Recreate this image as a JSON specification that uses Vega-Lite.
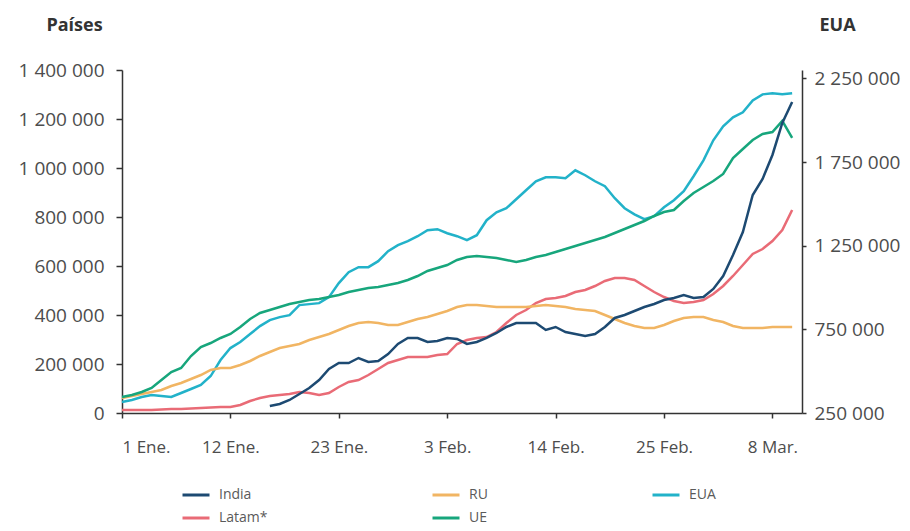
{
  "$schema": "https://vega.github.io/schema/vega-lite/v6.json",
  "width": 680,
  "height": 343,
  "autosize": {"type": "none"},
  "padding": {"left": 122, "top": 70, "right": 108, "bottom": 118},
  "background": "white",
  "config": {
    "view": {"stroke": null},
    "font": "Open Sans",
    "axis": {
      "grid": false,
      "domainColor": "#333333",
      "domainWidth": 1.5,
      "tickColor": "#333333",
      "tickWidth": 1.5,
      "labelFont": "Open Sans",
      "labelFontSize": 17,
      "labelColor": "#4d4d4d",
      "titleFont": "Open Sans",
      "titleFontSize": 18,
      "titleFontWeight": "bold",
      "titleColor": "#333333"
    },
    "legend": {
      "labelFont": "Open Sans",
      "labelFontSize": 14,
      "labelColor": "#5a5a5a"
    }
  },
  "data": {
    "values": [
      {"fecha": "2021-01-01", "Latam*": 12200, "RU": 61200, "UE": 65300, "EUA": 315700},
      {"fecha": "2021-01-02", "Latam*": 12200, "RU": 69400, "UE": 73500, "EUA": 327600},
      {"fecha": "2021-01-03", "Latam*": 12200, "RU": 77600, "UE": 85700, "EUA": 345500},
      {"fecha": "2021-01-04", "Latam*": 12200, "RU": 85700, "UE": 102000, "EUA": 357500},
      {"fecha": "2021-01-05", "Latam*": 14300, "RU": 93900, "UE": 134700, "EUA": 351500},
      {"fecha": "2021-01-06", "Latam*": 16300, "RU": 110200, "UE": 167400, "EUA": 345500},
      {"fecha": "2021-01-07", "Latam*": 16300, "RU": 122500, "UE": 183700, "EUA": 369400},
      {"fecha": "2021-01-08", "Latam*": 18400, "RU": 138800, "UE": 232700, "EUA": 393300},
      {"fecha": "2021-01-09", "Latam*": 20400, "RU": 155100, "UE": 269400, "EUA": 417200},
      {"fecha": "2021-01-10", "Latam*": 22500, "RU": 175500, "UE": 285700, "EUA": 470900},
      {"fecha": "2021-01-11", "Latam*": 24500, "RU": 183700, "UE": 306200, "EUA": 566400},
      {"fecha": "2021-01-12", "Latam*": 24500, "RU": 183700, "UE": 322500, "EUA": 638100},
      {"fecha": "2021-01-13", "Latam*": 32700, "RU": 195900, "UE": 351100, "EUA": 673900},
      {"fecha": "2021-01-14", "Latam*": 49000, "RU": 212300, "UE": 383700, "EUA": 721600},
      {"fecha": "2021-01-15", "Latam*": 61200, "RU": 232700, "UE": 408200, "EUA": 769400},
      {"fecha": "2021-01-16", "India": 28600, "Latam*": 69400, "RU": 249000, "UE": 420400, "EUA": 805200},
      {"fecha": "2021-01-17", "India": 36700, "Latam*": 73500, "RU": 265300, "UE": 432700, "EUA": 823100},
      {"fecha": "2021-01-18", "India": 53100, "Latam*": 77600, "RU": 273500, "UE": 444900, "EUA": 835100},
      {"fecha": "2021-01-19", "India": 77600, "Latam*": 85700, "RU": 281700, "UE": 453100, "EUA": 894800},
      {"fecha": "2021-01-20", "India": 102000, "Latam*": 81600, "RU": 298000, "UE": 461300, "EUA": 900700},
      {"fecha": "2021-01-21", "India": 134700, "Latam*": 73500, "RU": 310200, "UE": 465300, "EUA": 906700},
      {"fecha": "2021-01-22", "India": 179600, "Latam*": 81600, "RU": 322500, "UE": 473500, "EUA": 942500},
      {"fecha": "2021-01-23", "India": 204100, "Latam*": 106100, "RU": 338800, "UE": 481700, "EUA": 1026100},
      {"fecha": "2021-01-24", "India": 204100, "Latam*": 126500, "RU": 355100, "UE": 493900, "EUA": 1091800},
      {"fecha": "2021-01-25", "India": 224500, "Latam*": 134700, "RU": 367400, "UE": 502100, "EUA": 1121600},
      {"fecha": "2021-01-26", "India": 208200, "Latam*": 155100, "RU": 371500, "UE": 510300, "EUA": 1121600},
      {"fecha": "2021-01-27", "India": 212300, "Latam*": 179600, "RU": 367400, "UE": 514300, "EUA": 1157400},
      {"fecha": "2021-01-28", "India": 240800, "Latam*": 204100, "RU": 359200, "UE": 522500, "EUA": 1217100},
      {"fecha": "2021-01-29", "India": 281700, "Latam*": 216300, "RU": 359200, "UE": 530700, "EUA": 1253000},
      {"fecha": "2021-01-30", "India": 306200, "Latam*": 228600, "RU": 371500, "UE": 542900, "EUA": 1276800},
      {"fecha": "2021-01-31", "India": 306200, "Latam*": 228600, "RU": 383700, "UE": 559200, "EUA": 1306700},
      {"fecha": "2021-02-01", "India": 289800, "Latam*": 228600, "RU": 391900, "UE": 579600, "EUA": 1342500},
      {"fecha": "2021-02-02", "India": 293900, "Latam*": 236800, "RU": 404100, "UE": 591900, "EUA": 1348500},
      {"fecha": "2021-02-03", "India": 306200, "Latam*": 240800, "RU": 416400, "UE": 604100, "EUA": 1324600},
      {"fecha": "2021-02-04", "India": 302100, "Latam*": 281700, "RU": 432700, "UE": 624500, "EUA": 1306700},
      {"fecha": "2021-02-05", "India": 281700, "Latam*": 298000, "RU": 440900, "UE": 636800, "EUA": 1282800},
      {"fecha": "2021-02-06", "India": 289800, "Latam*": 306200, "RU": 440900, "UE": 640900, "EUA": 1312700},
      {"fecha": "2021-02-07", "India": 306200, "Latam*": 310200, "RU": 436800, "UE": 636800, "EUA": 1402200},
      {"fecha": "2021-02-08", "India": 326600, "Latam*": 330600, "RU": 432700, "UE": 632700, "EUA": 1450000},
      {"fecha": "2021-02-09", "India": 351100, "Latam*": 367400, "RU": 432700, "UE": 624500, "EUA": 1473900},
      {"fecha": "2021-02-10", "India": 367400, "Latam*": 400000, "RU": 432700, "UE": 616400, "EUA": 1527600},
      {"fecha": "2021-02-11", "India": 367400, "Latam*": 420400, "RU": 432700, "UE": 624500, "EUA": 1581300},
      {"fecha": "2021-02-12", "India": 367400, "Latam*": 449000, "RU": 436800, "UE": 636800, "EUA": 1635000},
      {"fecha": "2021-02-13", "India": 338800, "Latam*": 465300, "RU": 440900, "UE": 645000, "EUA": 1658900},
      {"fecha": "2021-02-14", "India": 351100, "Latam*": 469400, "RU": 436800, "UE": 657200, "EUA": 1658900},
      {"fecha": "2021-02-15", "India": 330600, "Latam*": 477600, "RU": 432700, "UE": 669400, "EUA": 1653000},
      {"fecha": "2021-02-16", "India": 322500, "Latam*": 493900, "RU": 424500, "UE": 681700, "EUA": 1700700},
      {"fecha": "2021-02-17", "India": 314300, "Latam*": 502100, "RU": 420400, "UE": 693900, "EUA": 1670900},
      {"fecha": "2021-02-18", "India": 322500, "Latam*": 518400, "RU": 416400, "UE": 706200, "EUA": 1635000},
      {"fecha": "2021-02-19", "India": 351100, "Latam*": 538800, "RU": 400000, "UE": 718400, "EUA": 1605200},
      {"fecha": "2021-02-20", "India": 387800, "Latam*": 551100, "RU": 383700, "UE": 734800, "EUA": 1533600},
      {"fecha": "2021-02-21", "India": 400000, "Latam*": 551100, "RU": 367400, "UE": 751100, "EUA": 1473900},
      {"fecha": "2021-02-22", "India": 416400, "Latam*": 542900, "RU": 355100, "UE": 767400, "EUA": 1437600},
      {"fecha": "2021-02-23", "India": 432700, "Latam*": 518400, "RU": 347000, "UE": 783700, "EUA": 1408200},
      {"fecha": "2021-02-24", "India": 444900, "Latam*": 493900, "RU": 347000, "UE": 804200, "EUA": 1426100},
      {"fecha": "2021-02-25", "India": 461300, "Latam*": 473500, "RU": 359200, "UE": 820500, "EUA": 1479800},
      {"fecha": "2021-02-26", "India": 469400, "Latam*": 457200, "RU": 375500, "UE": 828600, "EUA": 1521600},
      {"fecha": "2021-02-27", "India": 481700, "Latam*": 449000, "RU": 387800, "UE": 865400, "EUA": 1575300},
      {"fecha": "2021-02-28", "India": 469400, "Latam*": 453100, "RU": 391900, "UE": 898000, "EUA": 1664900},
      {"fecha": "2021-03-01", "India": 473500, "Latam*": 461300, "RU": 391900, "UE": 922500, "EUA": 1760400},
      {"fecha": "2021-03-02", "India": 506200, "Latam*": 485800, "RU": 379600, "UE": 947000, "EUA": 1879800},
      {"fecha": "2021-03-03", "India": 559200, "Latam*": 518400, "RU": 371500, "UE": 975600, "EUA": 1963400},
      {"fecha": "2021-03-04", "India": 645000, "Latam*": 559200, "RU": 355100, "UE": 1040900, "EUA": 2017100},
      {"fecha": "2021-03-05", "India": 738800, "Latam*": 604100, "RU": 347000, "UE": 1077600, "EUA": 2047000},
      {"fecha": "2021-03-06", "India": 889900, "Latam*": 649000, "RU": 347000, "UE": 1114400, "EUA": 2118600},
      {"fecha": "2021-03-07", "India": 955200, "Latam*": 669400, "RU": 347000, "UE": 1138900, "EUA": 2154400},
      {"fecha": "2021-03-08", "India": 1053200, "Latam*": 702100, "RU": 351100, "UE": 1147000, "EUA": 2160400},
      {"fecha": "2021-03-09", "India": 1183800, "Latam*": 747000, "RU": 351100, "UE": 1191900, "EUA": 2154400},
      {"fecha": "2021-03-10", "India": 1269500, "Latam*": 828600, "RU": 351100, "UE": 1122600, "EUA": 2160400}
    ]
  },
  "transform": [
    {"fold": ["India", "Latam*", "RU", "UE", "EUA"], "as": ["serie", "valor"]},
    {"filter": "isValid(datum.valor)"}
  ],
  "encoding": {
    "x": {
      "field": "fecha",
      "type": "temporal",
      "scale": {
        "type": "utc",
        "domain": [
          {"year": 2021, "month": 1, "date": 1, "utc": true},
          {"year": 2021, "month": 3, "date": 11, "utc": true}
        ]
      },
      "axis": {
        "title": null,
        "values": [
          {"year": 2021, "month": 1, "date": 1, "utc": true},
          {"year": 2021, "month": 1, "date": 12, "utc": true},
          {"year": 2021, "month": 1, "date": 23, "utc": true},
          {"year": 2021, "month": 2, "date": 3, "utc": true},
          {"year": 2021, "month": 2, "date": 14, "utc": true},
          {"year": 2021, "month": 2, "date": 25, "utc": true},
          {"year": 2021, "month": 3, "date": 8, "utc": true}
        ],
        "labelExpr": "utcdate(datum.value) + ' ' + (utcmonth(datum.value) == 0 ? 'Ene.' : utcmonth(datum.value) == 1 ? 'Feb.' : 'Mar.')",
        "tickSize": 5,
        "labelPadding": 21
      }
    },
    "color": {
      "field": "serie",
      "type": "nominal",
      "scale": {
        "domain": ["India", "RU", "EUA", "Latam*", "UE"],
        "range": ["#1d4a72", "#f1b563", "#22b2c9", "#e96b76", "#17a67c"]
      },
      "legend": {
        "title": null,
        "orient": "none",
        "legendX": 59,
        "legendY": 410,
        "direction": "horizontal",
        "columns": 3,
        "symbolType": "stroke",
        "symbolSize": 729,
        "symbolStrokeWidth": 3,
        "labelOffset": 8,
        "columnPadding": 158,
        "rowPadding": 1,
        "padding": 0
      }
    }
  },
  "layer": [
    {
      "transform": [{"filter": "datum.serie == 'EUA'"}],
      "mark": {"type": "line", "strokeWidth": 2.5},
      "encoding": {
        "y": {
          "field": "valor",
          "type": "quantitative",
          "scale": {"domain": [250000, 2300000], "nice": false, "zero": false},
          "axis": {
            "orient": "right",
            "values": [250000, 750000, 1250000, 1750000, 2250000],
            "labelExpr": "replace(format(datum.value, ','), regexp(',', 'g'), ' ')",
            "labelFontSize": 19,
            "tickSize": 4,
            "labelPadding": 8,
            "title": "EUA",
            "titleAngle": 0,
            "titleX": 35,
            "titleY": -45,
            "titleAlign": "center",
            "titleBaseline": "middle"
          }
        }
      }
    },
    {
      "transform": [{"filter": "datum.serie != 'EUA'"}],
      "mark": {"type": "line", "strokeWidth": 2.5},
      "encoding": {
        "y": {
          "field": "valor",
          "type": "quantitative",
          "scale": {"domain": [0, 1400000], "nice": false},
          "axis": {
            "orient": "left",
            "values": [0, 200000, 400000, 600000, 800000, 1000000, 1200000, 1400000],
            "labelExpr": "replace(format(datum.value, ','), regexp(',', 'g'), ' ')",
            "labelFontSize": 19,
            "tickSize": 6,
            "labelPadding": 12,
            "title": "Países",
            "titleAngle": 0,
            "titleX": -48,
            "titleY": -45,
            "titleAlign": "center",
            "titleBaseline": "middle"
          }
        }
      }
    }
  ],
  "resolve": {"scale": {"y": "independent"}}
}
